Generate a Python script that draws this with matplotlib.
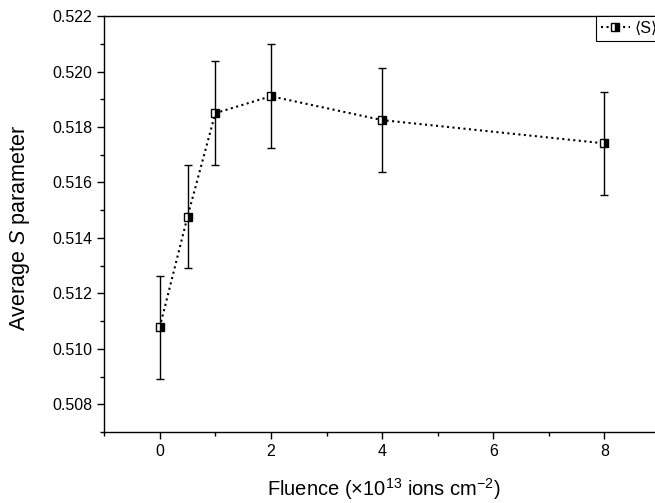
import matplotlib
matplotlib.use("Agg")
import matplotlib.pyplot as plt
from matplotlib.ticker import MultipleLocator, FormatStrFormatter

plt.rcParams["font.family"] = ["Liberation Sans", "DejaVu Sans"]
plt.rcParams["mathtext.fontset"] = "custom"
plt.rcParams["mathtext.rm"] = "Liberation Sans"
plt.rcParams["mathtext.it"] = "Liberation Sans:italic"

# fluence (x1e13 ions cm^-2) and average S parameter with its error
fluence = [0, 0.5, 1, 2, 4, 8]
s_avg = [0.51078, 0.51477, 0.51850, 0.51911, 0.51825, 0.51741]
s_err = [0.00185, 0.00185, 0.00187, 0.00188, 0.00187, 0.00186]

fig = plt.figure(figsize=(6.55, 5.03), dpi=100)
ax = fig.add_axes([0.159, 0.141, 0.853, 0.827])

ax.errorbar(fluence, s_avg, yerr=s_err, fmt="none", ecolor="black",
            elinewidth=1.0, capsize=3, capthick=1.0)
ax.plot(fluence, s_avg, color="black", ls=":", lw=1.5,
        marker="s", ms=6.2, mfc="black", mfcalt="white", mec="black",
        mew=1.0, fillstyle="right", label="\u27e8S\u27e9")

ax.set_xlim(-1, 9.05)
ax.set_ylim(0.507, 0.522)
ax.xaxis.set_major_locator(MultipleLocator(2))
ax.xaxis.set_minor_locator(MultipleLocator(1))
ax.yaxis.set_major_locator(MultipleLocator(0.002))
ax.yaxis.set_minor_locator(MultipleLocator(0.001))
ax.yaxis.set_major_formatter(FormatStrFormatter("%.3f"))
ax.tick_params(which="major", direction="out", length=5, width=1, labelsize=11.5)
ax.tick_params(which="minor", direction="out", length=3, width=1)
for side in ["left", "bottom", "top", "right"]:
    ax.spines[side].set_linewidth(1.0)

ax.set_xlabel("Fluence (\u00d710$^{13}$ ions cm$^{-2}$)", fontsize=14.5)
ax.set_ylabel("Average $\\it{S}$ parameter", fontsize=15.5)
ax.xaxis.set_label_coords(0.5, -0.106)
ax.yaxis.set_label_coords(-0.129, 0.49)

leg = ax.legend(loc="upper left", bbox_to_anchor=(596 / 655, 0.968),
                bbox_transform=fig.transFigure, borderaxespad=0, fontsize=11.5,
                fancybox=False, edgecolor="black", framealpha=1,
                handlelength=1.8, handletextpad=0.3, borderpad=0.3,
                numpoints=1)
leg.get_frame().set_linewidth(0.8)

fig.savefig("out.png", dpi=100)
